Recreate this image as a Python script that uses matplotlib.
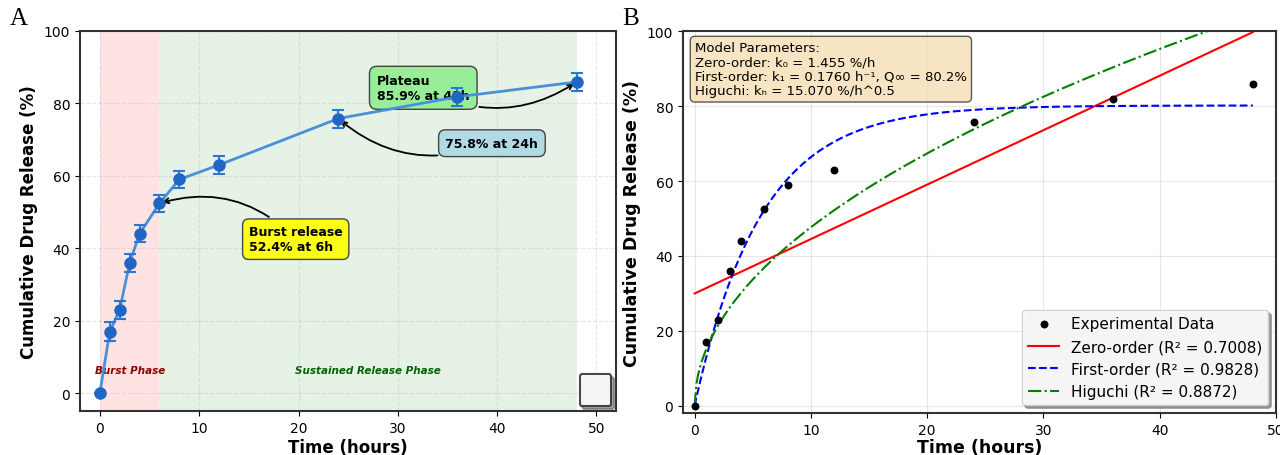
import matplotlib
matplotlib.use("Agg")
import matplotlib.pyplot as plt
import numpy as np

# release data
time_h = [0, 1, 2, 3, 4, 6, 8, 12, 24, 36, 48]
release = [0, 17.0, 23.0, 36.0, 44.0, 52.4, 59.0, 63.0, 75.8, 81.8, 85.9]
release_err = [0, 2.5, 2.5, 2.5, 2.4, 2.4, 2.4, 2.5, 2.5, 2.5, 2.5]

# fitted model parameters
k0, b0 = 1.455, 29.95
k1, q_inf = 0.1760, 80.2
kh = 15.070
r2_zero, r2_first, r2_hig = 0.7008, 0.9828, 0.8872

plt.rcParams['font.family'] = 'DejaVu Sans'

fig = plt.figure(figsize=(12.8, 4.56), dpi=100)
ax1 = fig.add_axes([0.0625, 0.096, 0.419, 0.834])
ax2 = fig.add_axes([0.5336, 0.092, 0.4633, 0.837])

# ---- panel A
line_c = '#4a90d9'
mk_c = '#1f66c6'
ax1.axvspan(0, 6, color='red', alpha=0.11, lw=0, zorder=0)
ax1.axvspan(6, 48, color='green', alpha=0.1, lw=0, zorder=0)
ax1.plot(time_h, release, '-', color=line_c, lw=2, zorder=4)
ax1.errorbar(time_h, release, yerr=release_err, fmt='o', color=mk_c, ms=8,
             ecolor='#2a78d0', elinewidth=1.5, capsize=4, capthick=1.5, zorder=5)

ax1.text(3, 6.5, 'Burst Phase', color='darkred', fontsize=7.5, fontweight='bold',
         style='italic', ha='center', va='center')
ax1.text(27, 6.5, 'Sustained Release Phase', color='darkgreen', fontsize=7.5,
         fontweight='bold', style='italic', ha='center', va='center')

ax1.annotate('Burst release\n52.4% at 6h', xy=(6, 52.4), xytext=(15, 42.5),
             fontsize=9, fontweight='bold', ha='left', va='center',
             bbox=dict(boxstyle='round,pad=0.5', fc='yellow', ec='#333333', alpha=0.9),
             arrowprops=dict(arrowstyle='->', color='black', lw=1.3,
                             connectionstyle='arc3,rad=0.3'), zorder=3)
ax1.annotate('75.8% at 24h', xy=(24, 75.8), xytext=(34.8, 69),
             fontsize=9, fontweight='bold', ha='left', va='center',
             bbox=dict(boxstyle='round,pad=0.55', fc='lightblue', ec='#333333', alpha=0.9),
             arrowprops=dict(arrowstyle='->', color='black', lw=1.3,
                             connectionstyle='arc3,rad=-0.3'), zorder=3)
ax1.annotate('Plateau\n85.9% at 48h', xy=(48, 85.9), xytext=(27.9, 84.3),
             fontsize=9, fontweight='bold', ha='left', va='center',
             bbox=dict(boxstyle='round,pad=0.6', fc='lightgreen', ec='#333333', alpha=0.9),
             arrowprops=dict(arrowstyle='->', color='black', lw=1.3,
                             connectionstyle='arc3,rad=0.3'), zorder=3)

ax1.set_xlim(-2, 52)
ax1.set_ylim(-5, 100)
ax1.set_xticks(range(0, 51, 10))
ax1.set_yticks(range(0, 101, 20))
ax1.grid(True, ls='--', alpha=0.3)
ax1.set_axisbelow(True)
ax1.set_xlabel('Time (hours)', fontsize=12, fontweight='bold', labelpad=2)
ax1.set_ylabel('Cumulative Drug Release (%)', fontsize=12, fontweight='bold')
ax1.tick_params(labelsize=10)
for s in ax1.spines.values():
    s.set_linewidth(1.5)
    s.set_color('#333333')
leg1 = ax1.legend(handles=[], loc='lower right', fancybox=True, shadow=True,
                  framealpha=0.9, borderpad=1.15, borderaxespad=0.35)
leg1.get_frame().set_edgecolor('#333333')
leg1.get_frame().set_linewidth(1.5)

# ---- panel B
tt = np.linspace(0, 48, 300)
ax2.scatter(time_h, release, color='black', s=22, zorder=5, label='Experimental Data')
ax2.plot(tt, b0 + k0 * tt, '-', color='red', lw=1.5,
         label=f'Zero-order (R² = {r2_zero:.4f})')
ax2.plot(tt, q_inf * (1 - np.exp(-k1 * tt)), '--', color='blue', lw=1.5,
         label=f'First-order (R² = {r2_first:.4f})')
ax2.plot(tt, kh * np.sqrt(tt), '-.', color='green', lw=1.5,
         label=f'Higuchi (R² = {r2_hig:.4f})')

params = ('Model Parameters:\n'
          f'Zero-order: k\u2080 = {k0:.3f} %/h\n'
          f'First-order: k\u2081 = {k1:.4f} h\u207b\u00b9, Q\u221e = {q_inf:.1f}%\n'
          f'Higuchi: k\u2095 = {kh:.3f} %/h^0.5')
ax2.text(0.02, 0.975, params, transform=ax2.transAxes, fontsize=9.5, va='top', ha='left',
         linespacing=1.15,
         bbox=dict(boxstyle='round,pad=0.35', fc='wheat', ec='#333333', alpha=0.8))

ax2.set_xlim(-1, 50)
ax2.set_ylim(-2, 100)
ax2.set_xticks(range(0, 51, 10))
ax2.set_yticks(range(0, 101, 20))
ax2.grid(True, alpha=0.3)
ax2.set_axisbelow(True)
ax2.set_xlabel('Time (hours)', fontsize=12.5, fontweight='bold', labelpad=1)
ax2.set_ylabel('Cumulative Drug Release (%)', fontsize=12.5, fontweight='bold')
ax2.tick_params(labelsize=10)
for s in ax2.spines.values():
    s.set_linewidth(1.5)
    s.set_color('#333333')
ax2.legend(loc='lower right', fontsize=11, fancybox=True, shadow=True, framealpha=0.9)

fig.text(0.008, 0.935, 'A', fontsize=18, family='Liberation Serif', va='bottom')
fig.text(0.486, 0.935, 'B', fontsize=18, family='Liberation Serif', va='bottom')

fig.savefig('out.png', dpi=100)
